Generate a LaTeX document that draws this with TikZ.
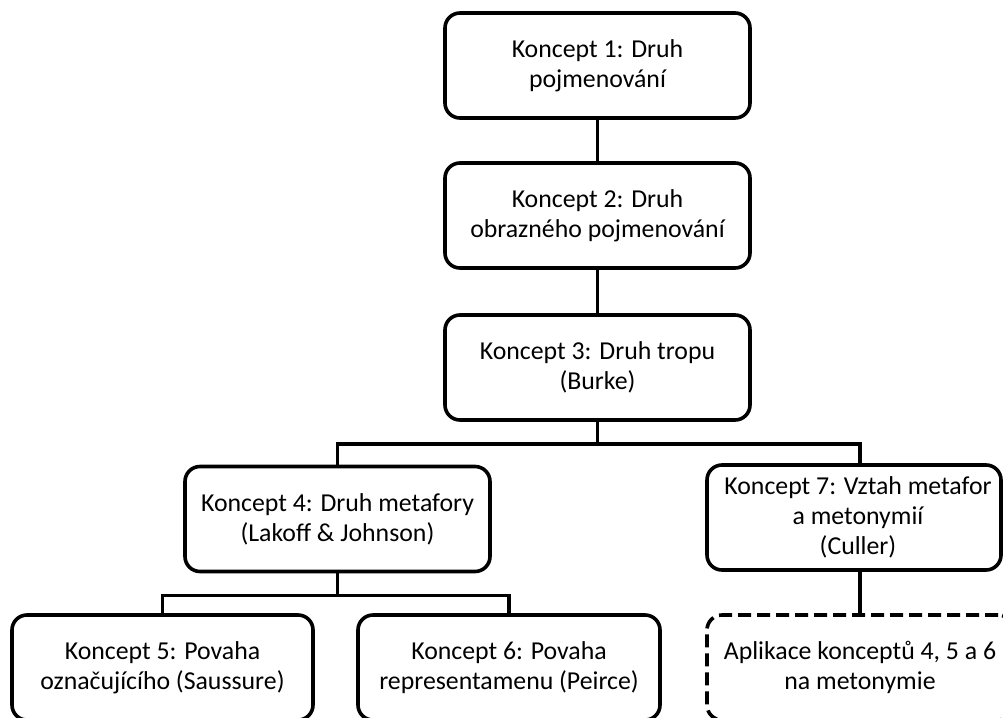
\documentclass[tikz,border=0pt]{standalone}
\usepackage{fontspec}
\setmainfont{Carlito}
\usetikzlibrary{calc}
\begin{document}
\begin{tikzpicture}[x=1pt,y=-1pt,
  conc/.style={draw=black, line width=3.6pt, rounded corners=15pt, fill=white,
    align=center, inner sep=2pt, minimum height=105pt,
    font=\fontsize{25.8}{30}\selectfont},
  link/.style={draw=black, line width=3.6pt},
  dashbox/.style={conc, dash pattern=on 13pt off 6pt}]
\path[use as bounding box, fill=white] (0,0) rectangle (1003,717);
\clip (0,0) rectangle (1003,717);

\node[conc, minimum width=305pt] (n1) at (597.5,65.5) {Koncept 1: Druh\\pojmenování};
\node[conc, minimum width=305pt] (n2) at (597.5,215.5) {Koncept 2: Druh\\obrazného pojmenování};
\node[conc, minimum width=305pt] (n3) at (597.5,367.5) {Koncept 3: Druh tropu\\(Burke)};
\node[conc, minimum width=305pt] (n4) at (337.5,519) {Koncept 4: Druh metafory\\(Lakoff \& Johnson)};
\node[conc, minimum width=294pt] (n7) at (854,517.5) {\hspace*{8pt}Koncept 7: Vztah metafor\\\hspace*{8pt}a metonymií\\\hspace*{8pt}(Culler)};
\node[conc, minimum width=301pt] (n5) at (162.5,667.5) {Koncept 5: Povaha\\označujícího (Saussure)};
\node[conc, minimum width=302pt] (n6) at (509,667.5) {Koncept 6: Povaha\\representamenu (Peirce)};
\node[dashbox, minimum width=306pt] (n8) at (860,667.5) {Aplikace konceptů 4, 5 a 6\\na metonymie};

\coordinate (b3) at ($(n3.south)+(0,22)$);
\coordinate (b4) at ($(n4.south)+(0,22)$);
\coordinate (t7) at ([xshift=6pt]n7.north);
\coordinate (s7) at ([xshift=6pt]n7.south);

\draw[link] (n1.south) -- (n2.north);
\draw[link] (n2.south) -- (n3.north);
\draw[link] (n3.south) -- (b3);
\draw[link] (b3) -| (n4.north);
\draw[link] (b3) -| (t7);
\draw[link] (n4.south) -- (b4);
\draw[link] (b4) -| (n5.north);
\draw[link] (b4) -| (n6.north);
\draw[link] (s7) -- (s7 |- n8.north);
\end{tikzpicture}
\end{document}
